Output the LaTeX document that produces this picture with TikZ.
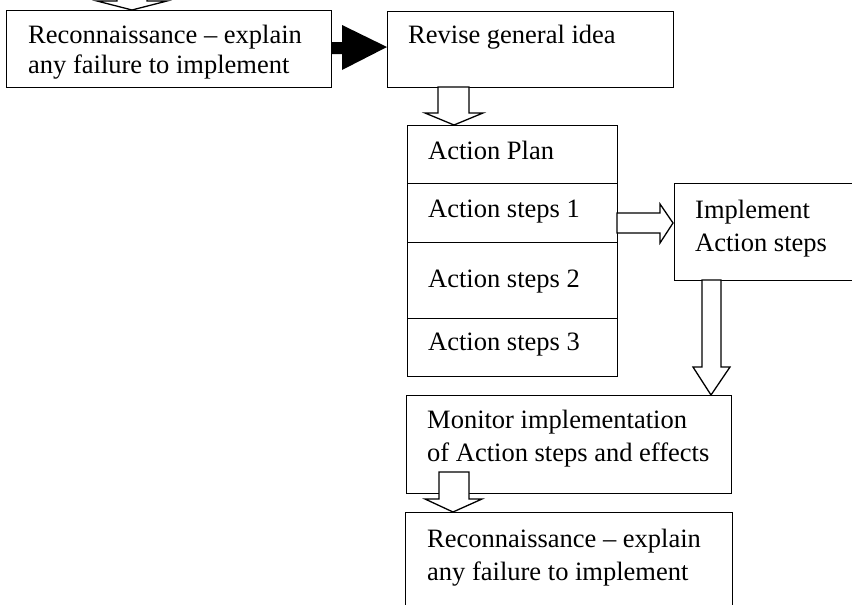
\documentclass[tikz,border=0pt]{standalone}
\usepackage{fontspec}
\setmainfont{Liberation Serif}
\begin{document}
\begin{tikzpicture}[x=1pt,y=-1pt,
  box/.style={draw, line width=1.3pt, rectangle, inner sep=0pt, anchor=north west},
  txt/.style={anchor=base west, inner sep=0pt, font=\fontsize{26.5}{32}\selectfont},
  hollow/.style={draw, fill=white, line width=1.3pt, line join=miter},
  solidarrow/.style={fill=black}]
\clip (0,0) rectangle (852,605);
% boxes
\node[box, minimum width=325pt, minimum height=77pt] (recA) at (6,10) {};
\node[box, minimum width=286pt, minimum height=76pt] (rev) at (387,11) {};
\node[box, minimum width=210pt, minimum height=58pt] (plan) at (407,125) {};
\node[box, minimum width=210pt, minimum height=59pt] (s1) at (407,183) {};
\node[box, minimum width=210pt, minimum height=76pt] (s2) at (407,242) {};
\node[box, minimum width=210pt, minimum height=58pt] (s3) at (407,318) {};
\node[box, minimum width=200pt, minimum height=97pt] (impl) at (674,183) {};
\node[box, minimum width=325pt, minimum height=98pt] (mon) at (406,395) {};
\node[box, minimum width=327pt, minimum height=120pt] (recB) at (405,512) {};
% texts
\node[txt] (tA1) at (28,43) {Reconnaissance – explain};
\node[txt] (tA2) at (28,73) {any failure to implement};
\node[txt] (tR) at (408,43) {Revise general idea};
\node[txt] (tP) at (428,159) {Action Plan};
\node[txt] (t1) at (428,217) {Action steps 1};
\node[txt] (t2) at (428,287) {Action steps 2};
\node[txt] (t3) at (428,350) {Action steps 3};
\node[txt] (tI1) at (695,218) {Implement};
\node[txt] (tI2) at (695,251) {Action steps};
\node[txt] (tM1) at (427,428) {Monitor implementation};
\node[txt] (tM2) at (427,461) {of Action steps and effects};
\node[txt] (tB1) at (427,547) {Reconnaissance – explain};
\node[txt] (tB2) at (427,580) {any failure to implement};
% block arrows
\draw[hollow] (117,-10) -- (147,-10) -- (147,1) -- (167,1) -- (132,10) -- (97,1) -- (117,1) -- cycle;
\fill[solidarrow] (331,42) -- (342,42) -- (342,25) -- (387,47) -- (342,70) -- (342,54) -- (331,54) -- cycle;
\draw[hollow] (438,87) -- (469,87) -- (469,113) -- (483,113) -- (454,125) -- (425,113) -- (438,113) -- cycle;
\draw[hollow] (617,213) -- (660,213) -- (660,204) -- (673,223) -- (660,243) -- (660,233) -- (617,233) -- cycle;
\draw[hollow] (702,280) -- (721,280) -- (721,367) -- (730,367) -- (711,395) -- (693,367) -- (702,367) -- cycle;
\draw[hollow] (439,472) -- (469,472) -- (469,499) -- (482,499) -- (453,512) -- (425,499) -- (439,499) -- cycle;
\end{tikzpicture}
\end{document}
